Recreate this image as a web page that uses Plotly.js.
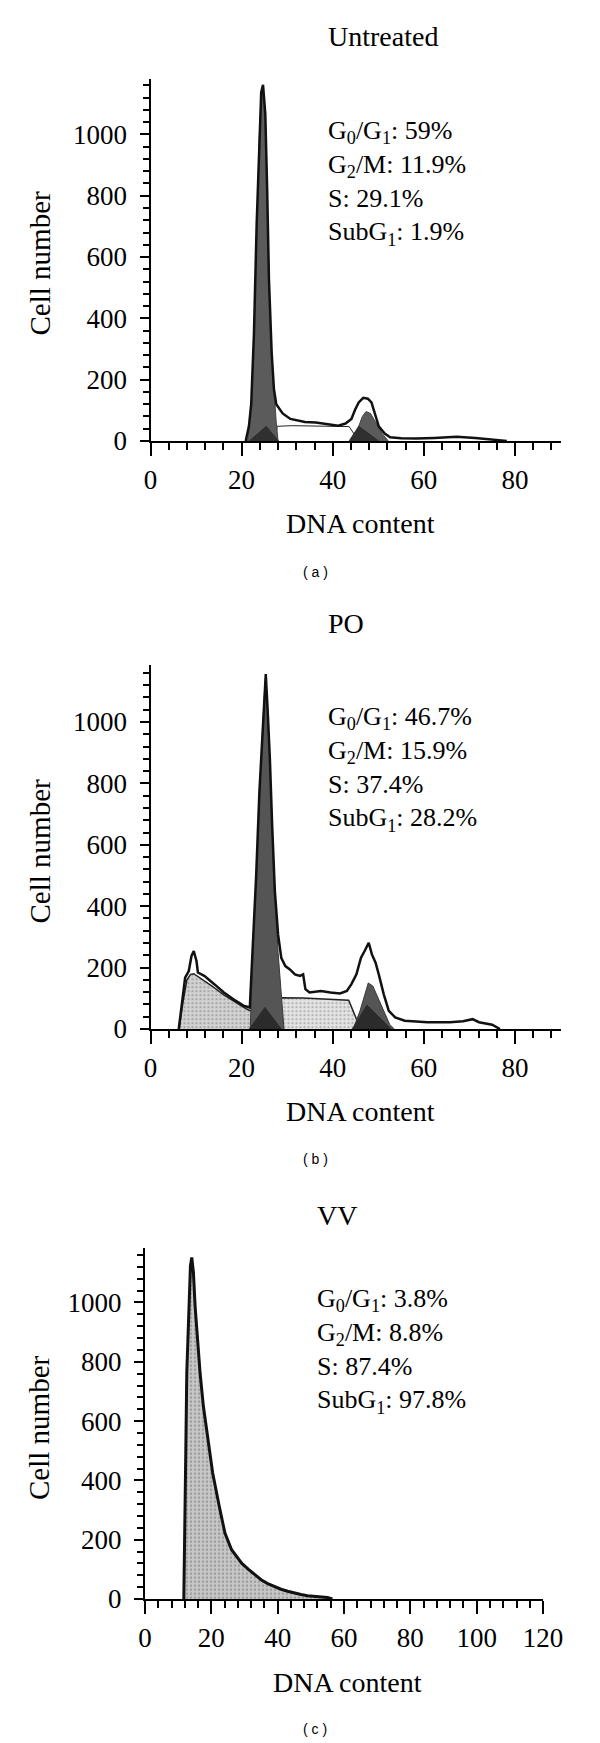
<!DOCTYPE html>
<html>
<head>
<meta charset="utf-8">
<script src="https://cdn.plot.ly/plotly-3.0.1.min.js"></script>
<style>
  html, body { margin: 0; padding: 0; background: #fff; }
  #graph { width: 600px; height: 1743px; }
</style>
</head>
<body>
<div id="graph"></div>
<script>
// (a) Untreated - DNA content vs cell number
var untreatedX = [20.9, 21.6, 22.1, 22.7, 23.3, 23.9, 24.3, 24.7, 25.2, 25.6, 26.0, 26.6, 27.1, 27.6, 28.2, 29.0, 30.7, 32.3, 33.9, 36.3, 38.8, 41.2, 42.8, 44.1, 44.9, 45.7, 46.7, 47.7, 48.5, 49.3, 50.1, 51.4, 52.6, 55, 58.3, 62.3, 67.2, 71.3, 74.5, 77.8, 78.2];
var untreatedCount = [0, 48, 120, 347, 707, 1006, 1138, 1162, 1066, 826, 527, 287, 168, 120, 108, 90, 72, 66, 62, 60, 54, 50, 57, 72, 102, 126, 141, 138, 126, 84, 48, 24, 12, 9, 8, 10, 14, 10, 6, 2, 0];
var untreatedG1X = [21.3, 22.1, 22.7, 23.3, 23.9, 24.3, 24.7, 25.2, 25.6, 26.0, 26.6, 27.1, 27.6, 28.0];
var untreatedG1 = [0, 110, 340, 700, 1000, 1130, 1158, 1060, 820, 520, 280, 150, 60, 0];
var untreatedG1BaseX = [21.7, 25.4, 28.1];
var untreatedG1Base = [0, 48, 0];
var untreatedSX = [27.4, 27.8, 31, 36, 41, 43.6, 45.7];
var untreatedS = [0, 48, 50, 49, 48, 47, 0];
var untreatedG2X = [44.1, 45.5, 46.5, 47.3, 48.3, 49.5, 50.8, 52.2];
var untreatedG2 = [0, 40, 80, 96, 90, 60, 25, 0];
var untreatedG2BaseX = [43.6, 45.7, 50.1];
var untreatedG2Base = [0, 48, 0];

// (b) PO
var poX = [6.2, 6.9, 7.6, 8.4, 9.0, 9.5, 10.1, 10.4, 11.8, 14.0, 16.1, 18.2, 20.4, 21.8, 22.5, 23.2, 23.9, 24.6, 25.1, 25.3, 25.7, 26.2, 26.7, 27.3, 28.0, 28.7, 29.6, 30.6, 31.7, 32.8, 33.5, 34.0, 34.9, 37.4, 39.5, 41.6, 43.1, 44.1, 45.2, 46.2, 47.0, 47.9, 48.6, 49.4, 50.1, 51.2, 52.3, 53.7, 55.8, 60.8, 65.7, 68.6, 70.7, 72.1, 75.0, 76.7];
var poCount = [0, 92, 167, 189, 238, 254, 221, 184, 173, 146, 119, 97, 76, 70, 286, 502, 772, 989, 1129, 1156, 1043, 881, 664, 448, 308, 232, 205, 194, 178, 173, 178, 130, 119, 124, 119, 116, 124, 146, 178, 232, 254, 281, 243, 216, 178, 113, 59, 38, 27, 22, 22, 25, 32, 22, 14, 0];
var poSubG1X = [6.3, 7.1, 8.0, 8.8, 9.5, 11.0, 13.5, 16.0, 18.5, 21.0, 23.0, 24.5, 26.0, 27.5];
var poSubG1 = [0, 85, 160, 178, 180, 166, 140, 112, 88, 66, 52, 38, 18, 0];
var poG1X = [21.9, 22.5, 23.2, 23.9, 24.6, 25.1, 25.3, 25.7, 26.2, 26.7, 27.3, 28.0, 28.7, 29.3];
var poG1 = [0, 280, 495, 765, 980, 1120, 1150, 1035, 875, 655, 440, 250, 100, 0];
var poG1BaseX = [21.7, 25.1, 28.7];
var poG1Base = [0, 70, 0];
var poSX = [28.3, 28.5, 33.5, 38.5, 43.5, 46.1];
var poS = [0, 102, 101, 98, 94, 0];
var poG2X = [44.5, 46.0, 47.0, 47.8, 48.8, 50.0, 51.2, 52.5, 53.5];
var poG2 = [0, 60, 110, 150, 140, 100, 55, 15, 0];
var poG2BaseX = [44.3, 47.5, 52.8];
var poG2Base = [0, 78, 0];

// (c) VV
var vvX = [11.7, 12.0, 12.3, 12.6, 13.1, 13.4, 13.7, 14.1, 14.6, 15.1, 15.8, 16.6, 17.6, 18.9, 20.4, 22.4, 24.1, 26.1, 29.2, 31.2, 33, 35, 37, 39, 41, 43, 45, 47, 49, 51, 53, 55, 56.5];
var vvCount = [0, 200, 500, 763, 932, 1045, 1124, 1152, 1101, 988, 876, 763, 650, 538, 425, 312, 222, 166, 120, 100, 82, 65, 52, 42, 33, 26, 20, 15, 11, 9, 7, 5, 0];

var panelTitles = ['Untreated', 'PO', 'VV'];
var panelStats = [
  ['G<sub>0</sub>/G<sub>1</sub>: 59%', 'G<sub>2</sub>/M: 11.9%', 'S: 29.1%', 'SubG<sub>1</sub>: 1.9%'],
  ['G<sub>0</sub>/G<sub>1</sub>: 46.7%', 'G<sub>2</sub>/M: 15.9%', 'S: 37.4%', 'SubG<sub>1</sub>: 28.2%'],
  ['G<sub>0</sub>/G<sub>1</sub>: 3.8%', 'G<sub>2</sub>/M: 8.8%', 'S: 87.4%', 'SubG<sub>1</sub>: 97.8%']
];
var captions = ['( a )', '( b )', '( c )'];

var W = 600, H = 1743;
var serif = 'Liberation Serif, Times New Roman, serif';
function px(x) { return x / W; }
function py(y) { return 1 - y / H; }

function area(x, y, n, fill, edge, w, dots) {
  var t = {
    x: x, y: y, xaxis: 'x' + n, yaxis: 'y' + n,
    type: 'scatter', mode: 'lines', fill: 'tozeroy', fillcolor: fill,
    line: { color: edge, width: w }, hoverinfo: 'skip'
  };
  if (dots) {
    t.fillpattern = { shape: '.', fgcolor: dots, bgcolor: fill, size: 4, solidity: 0.3, fillmode: 'replace' };
  }
  return t;
}
function outline(x, y, n) {
  return {
    x: x, y: y, xaxis: 'x' + n, yaxis: 'y' + n,
    type: 'scatter', mode: 'lines',
    line: { color: '#111', width: 2.5 }, hoverinfo: 'skip'
  };
}

var data = [
  area(untreatedSX, untreatedS, '', '#ffffff', '#222', 1),
  area(untreatedG1X, untreatedG1, '', '#5b5b5b', '#444', 1),
  area(untreatedG1BaseX, untreatedG1Base, '', '#303030', '#303030', 1),
  area(untreatedG2X, untreatedG2, '', '#5b5b5b', '#444', 1),
  area(untreatedG2BaseX, untreatedG2Base, '', '#303030', '#303030', 1),
  outline(untreatedX, untreatedCount, ''),

  area(poSubG1X, poSubG1, '2', '#d4d4d4', '#222', 1.5, '#a8a8a8'),
  area(poSX, poS, '2', '#e6e6e6', '#222', 1.5, '#b4b4b4'),
  area(poG1X, poG1, '2', '#555555', '#3a3a3a', 1),
  area(poG1BaseX, poG1Base, '2', '#2b2b2b', '#2b2b2b', 1),
  area(poG2X, poG2, '2', '#555555', '#3a3a3a', 1),
  area(poG2BaseX, poG2Base, '2', '#2b2b2b', '#2b2b2b', 1),
  outline(poX, poCount, '2'),

  area(vvX, vvCount, '3', '#c8c8c8', '#111', 3, '#9c9c9c')
];

function xAxis(d0, d1, max, anchor) {
  return {
    domain: [d0, d1], range: [0, max], anchor: anchor,
    showline: true, linecolor: 'black', linewidth: 2,
    ticks: 'outside', ticklen: 13, tickwidth: 2, tickcolor: 'black',
    tick0: 0, dtick: 20,
    minor: { dtick: 4, ticks: 'outside', ticklen: 7, tickwidth: 2, tickcolor: 'black' },
    showgrid: false, zeroline: false, fixedrange: true,
    tickfont: { family: serif, size: 27, color: 'black' },
    ticklabelstandoff: 1
  };
}
function yAxis(d0, d1, max, anchor) {
  return {
    domain: [d0, d1], range: [0, max], anchor: anchor,
    showline: true, linecolor: 'black', linewidth: 2,
    ticks: 'outside', ticklen: 9, tickwidth: 2, tickcolor: 'black',
    tick0: 0, dtick: 200,
    minor: { dtick: 40, ticks: 'outside', ticklen: 6, tickwidth: 2, tickcolor: 'black' },
    showgrid: false, zeroline: false, fixedrange: true,
    tickfont: { family: serif, size: 27, color: 'black' },
    ticklabelstandoff: 7
  };
}

// pixel placement of each panel: [x of origin, px per x unit, x max, y of origin, px per y unit, y max]
var panels = [
  [150.5, 4.556, 90, 441, 0.3066, 1180],
  [150.5, 4.556, 90, 1029, 0.307, 1185],
  [145, 3.317, 120, 1599, 0.2965, 1185]
];

var layout = {
  width: W, height: H,
  margin: { l: 0, r: 0, t: 0, b: 0 },
  paper_bgcolor: 'white', plot_bgcolor: 'white',
  showlegend: false, hovermode: false,
  annotations: []
};

var labelPos = [
  { title: [326, 36], stats: [326, 183], yt: [39.5, 263], xt: [360, 523], cap: [315, 572] },
  { title: [325.5, 623], stats: [325.5, 769], yt: [39.5, 851], xt: [360, 1111], cap: [315, 1159] },
  { title: [315, 1215], stats: [315, 1351], yt: [39, 1428], xt: [347, 1682], cap: [315, 1729] }
];

panels.forEach(function (p, i) {
  var n = i === 0 ? '' : String(i + 1);
  var x0 = p[0], xs = p[1], xmax = p[2], y0 = p[3], ys = p[4], ymax = p[5];
  layout['xaxis' + n] = xAxis(px(x0), px(x0 + xs * xmax), xmax, 'y' + n);
  layout['yaxis' + n] = yAxis(py(y0), py(y0 - ys * ymax), ymax, 'x' + n);

  var L = labelPos[i];
  layout.annotations.push(
    { text: panelTitles[i], xref: 'paper', yref: 'paper', x: px(L.title[0]), y: py(L.title[1]),
      xanchor: 'left', yanchor: 'middle', showarrow: false,
      font: { family: serif, size: 28, color: 'black' } },
    { text: panelStats[i].join('<br>'), xref: 'paper', yref: 'paper', x: px(L.stats[0]), y: py(L.stats[1]),
      xanchor: 'left', yanchor: 'middle', align: 'left', showarrow: false,
      font: { family: serif, size: 26, color: 'black' } },
    { text: 'Cell number', xref: 'paper', yref: 'paper', x: px(L.yt[0]), y: py(L.yt[1]),
      xanchor: 'center', yanchor: 'middle', textangle: -90, showarrow: false,
      font: { family: serif, size: 29, color: 'black' } },
    { text: 'DNA content', xref: 'paper', yref: 'paper', x: px(L.xt[0]), y: py(L.xt[1]),
      xanchor: 'center', yanchor: 'middle', showarrow: false,
      font: { family: serif, size: 28, color: 'black' } },
    { text: captions[i], xref: 'paper', yref: 'paper', x: px(L.cap[0]), y: py(L.cap[1]),
      xanchor: 'center', yanchor: 'middle', showarrow: false,
      font: { family: 'Liberation Sans, Arial, sans-serif', size: 14, color: 'black' } }
  );
});

Plotly.newPlot('graph', data, layout, { staticPlot: true, displayModeBar: false });
</script>
</body>
</html>
